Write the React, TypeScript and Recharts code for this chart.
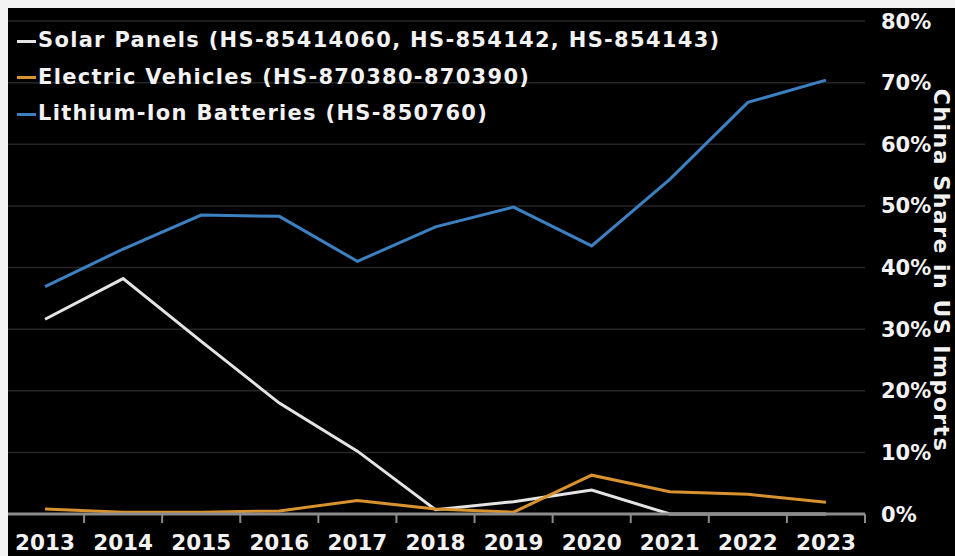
import React from 'react';
import { LineChart, Line, XAxis, YAxis, CartesianGrid } from 'recharts';

const years = ['2013', '2014', '2015', '2016', '2017', '2018', '2019', '2020', '2021', '2022', '2023'];
const solar = [31.6, 38.2, 28.0, 18.0, 10.2, 0.7, 2.0, 3.9, 0, 0, 0];
const ev = [0.8, 0.3, 0.3, 0.5, 2.2, 0.8, 0.3, 6.3, 3.6, 3.2, 1.9];
const batteries = [36.9, 43.0, 48.5, 48.3, 41.0, 46.6, 49.8, 43.5, 54.3, 66.8, 70.4];
const yTicks = [0, 10, 20, 30, 40, 50, 60, 70, 80];

const seriesNames = [
  'Solar Panels (HS-85414060, HS-854142, HS-854143)',
  'Electric Vehicles (HS-870380-870390)',
  'Lithium-Ion Batteries (HS-850760)',
];
const seriesColors = ['#e4e4e4', '#d8922e', '#3d80c2'];

const data = years.map((y, i) => ({ year: y, solar: solar[i], ev: ev[i], batteries: batteries[i] }));

const W = 955;
const H = 556;
const MARGIN = { top: 21, right: 0, bottom: 12, left: 6 };
const Y_W = 90;
const X_H = 30;
const PLOT_W = W - MARGIN.left - MARGIN.right - Y_W;
const BAND = PLOT_W / years.length;
const FONT = '"DejaVu Sans", Verdana, sans-serif';
const TEXT = '#f2f2f2';
const AXIS = '#8c8c8c';

const XTick = (props: any) => {
  const { x, y, payload } = props;
  return (
    <g>
      <line x1={x + BAND / 2} x2={x + BAND / 2} y1={y} y2={y + 9} stroke={AXIS} strokeWidth={2} />
      <text x={x} y={y + 36} textAnchor="middle" fill={TEXT} fontFamily={FONT} fontWeight="bold" fontSize={21.5}>
        {payload.value}
      </text>
    </g>
  );
};

const YTick = (props: any) => {
  const { x, y, payload } = props;
  return (
    <text x={x + 16} y={y} dy="0.36em" textAnchor="start" fill={TEXT} fontFamily={FONT} fontWeight="bold" fontSize={21}>
      {payload.value}%
    </text>
  );
};

const YTitle = (props: any) => {
  const vb = props.viewBox || {};
  const cx = vb.x + 76;
  const cy = vb.y + vb.height / 2 + 3;
  return (
    <text
      x={cx}
      y={cy}
      transform={`rotate(90, ${cx}, ${cy})`}
      textAnchor="middle"
      dominantBaseline="central"
      fill={TEXT}
      fontFamily={FONT}
      fontWeight="bold"
      fontSize={22}
      letterSpacing={1.5}
    >
      China Share in US Imports
    </text>
  );
};

const LegendBlock = () => (
  <div
    style={{
      position: 'absolute',
      left: 17,
      top: 22,
      fontFamily: FONT,
      fontWeight: 'bold',
      fontSize: 21,
      letterSpacing: 1.3,
      color: TEXT,
      lineHeight: '36.5px',
    }}
  >
    {seriesNames.map((n, i) => (
      <div key={n} style={{ display: 'flex', alignItems: 'center', whiteSpace: 'nowrap' }}>
        <span style={{ display: 'inline-block', width: 19, height: 3, background: seriesColors[i], marginRight: 2, marginTop: 2 }} />
        <span>{n}</span>
      </div>
    ))}
  </div>
);

export default function App() {
  return (
    <div style={{ position: 'fixed', left: 0, top: 0, width: W, height: H, background: '#f3f3f3' }}>
      <div style={{ position: 'absolute', left: 8, top: 8, width: W - 8, height: H - 8, background: '#000', overflow: 'hidden' }}>
        <div style={{ position: 'absolute', left: -8, top: -8, width: W, height: H }}>
          <LineChart width={W} height={H} data={data} margin={MARGIN}>
            <CartesianGrid horizontal vertical={false} stroke="#262626" strokeWidth={1.5} />
            <XAxis
              dataKey="year"
              padding={{ left: BAND / 2, right: BAND / 2 }}
              height={X_H}
              axisLine={{ stroke: AXIS, strokeWidth: 3 }}
              tickLine={false}
              tickSize={0}
              tickMargin={0}
              tick={<XTick />}
              interval={0}
            />
            <YAxis
              orientation="right"
              width={Y_W}
              domain={[0, 80]}
              ticks={yTicks}
              axisLine={false}
              tickLine={false}
              tickSize={0}
              tickMargin={0}
              tick={<YTick />}
              interval={0}
              label={{ content: <YTitle /> }}
            />
            <Line dataKey="solar" stroke={seriesColors[0]} strokeWidth={3} dot={false} isAnimationActive={false} />
            <Line dataKey="ev" stroke={seriesColors[1]} strokeWidth={3} dot={false} isAnimationActive={false} />
            <Line dataKey="batteries" stroke={seriesColors[2]} strokeWidth={3} dot={false} isAnimationActive={false} />
          </LineChart>
          <LegendBlock />
        </div>
      </div>
    </div>
  );
}
